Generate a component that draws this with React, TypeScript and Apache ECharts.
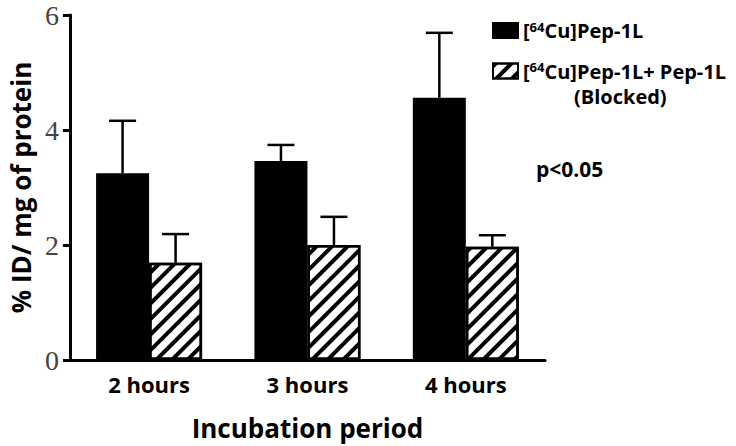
import React, { useEffect, useRef } from "react";
import * as echarts from "echarts";

const categories = ["2 hours", "3 hours", "4 hours"];
const pepValues = [3.25, 3.46, 4.56];
const pepErrors = [0.91, 0.28, 1.13];
const blockedValues = [1.69, 2.0, 1.97];
const blockedErrors = [0.5, 0.49, 0.2];
const yTicks = [0, 2, 4, 6];

const SANS = "'Open Sans', Lato, sans-serif";
const BAR_W = 53;

function errorSeries(name: string, values: number[], errors: number[], offset: number) {
  return {
    type: "custom",
    name: name + " err",
    z: 5,
    silent: true,
    data: values.map((v, i) => [i, v, errors[i]]),
    encode: { x: 0, y: 1 },
    renderItem: (params: any, api: any) => {
      const idx = api.value(0);
      const v = api.value(1);
      const e = api.value(2);
      const base = api.coord([idx, v]);
      const top = api.coord([idx, v + e]);
      const x = base[0] + offset;
      const style = { stroke: "#000", lineWidth: 2.5 };
      return {
        type: "group",
        children: [
          { type: "line", shape: { x1: x, y1: base[1], x2: x, y2: top[1] }, style },
          { type: "line", shape: { x1: x - 13.5, y1: top[1], x2: x + 13.5, y2: top[1] }, style },
        ],
      };
    },
  };
}

export default function App() {
  const ref = useRef<HTMLDivElement>(null);
  useEffect(() => {
    const chart = echarts.init(ref.current!, null, { renderer: "svg" });
    const rich = {
      b: { fontFamily: SANS, fontWeight: "bold", fontSize: 20, color: "#000" },
      sup: { fontFamily: SANS, fontWeight: "bold", fontSize: 13, color: "#000", verticalAlign: "top", padding: [0, 0, 8, 0] },
    };
    chart.setOption({
      animation: false,
      backgroundColor: "#fff",
      grid: { left: 62, right: 191, top: 15, bottom: 86 },
      legend: {
        left: 487,
        top: 15,
        orient: "vertical",
        itemWidth: 25,
        itemHeight: 15,
        itemGap: 20,
        icon: "rect",
        data: ["[64Cu]Pep-1L", "[64Cu]Pep-1L+ Pep-1L"],
        formatter: (name: string) => {
          const rest = name.replace("[64Cu]", "");
          return "{b|[}{sup|64}{b|Cu]" + rest + "}";
        },
        textStyle: { rich, padding: [0, 0, 0, 0] },
      },
      xAxis: {
        type: "category",
        data: categories,
        axisLine: { lineStyle: { color: "#000", width: 3 } },
        axisTick: { show: false },
        axisLabel: { fontFamily: SANS, fontWeight: "bold", fontSize: 22, color: "#000", margin: 13 },
        name: "Incubation period",
        nameLocation: "middle",
        nameGap: 55,
        nameTextStyle: { fontFamily: SANS, fontWeight: "bold", fontSize: 26, color: "#000" },
      },
      yAxis: {
        type: "value",
        min: yTicks[0],
        max: yTicks[yTicks.length - 1],
        interval: 2,
        splitLine: { show: false },
        axisLine: { show: true, lineStyle: { color: "#000", width: 3 } },
        axisTick: { show: true, length: 7, lineStyle: { color: "#000", width: 3 } },
        axisLabel: { fontFamily: "'Liberation Serif', serif", fontSize: 28, color: "#444", margin: 11 },
        name: "% ID/ mg of protein",
        nameLocation: "middle",
        nameGap: 29,
        nameTextStyle: { fontFamily: SANS, fontWeight: "bold", fontSize: 26, color: "#000" },
      },
      graphic: [
        {
          type: "text",
          left: 574,
          top: 86,
          style: { text: "(Blocked)", fontFamily: SANS, fontWeight: "bold", fontSize: 20, fill: "#000" },
        },
        {
          type: "text",
          left: 536,
          top: 158,
          style: { text: "p<0.05", fontFamily: SANS, fontWeight: "bold", fontSize: 21, fill: "#000" },
        },
      ],
      series: [
        {
          type: "bar",
          name: "[64Cu]Pep-1L",
          data: pepValues,
          barWidth: BAR_W,
          barGap: "0%",
          itemStyle: { color: "#000", borderColor: "#000", borderWidth: 2 },
        },
        {
          type: "bar",
          name: "[64Cu]Pep-1L+ Pep-1L",
          data: blockedValues,
          barWidth: BAR_W,
          barGap: "0%",
          itemStyle: {
            color: "#fff",
            borderColor: "#000",
            borderWidth: 2.5,
            decal: {
              symbol: "rect",
              symbolSize: 1,
              color: "#000",
              dashArrayX: [1, 0],
              dashArrayY: [3.5, 6.5],
              rotation: -Math.PI / 4,
            },
          },
        },
        errorSeries("[64Cu]Pep-1L", pepValues, pepErrors, -BAR_W / 2),
        errorSeries("[64Cu]Pep-1L+ Pep-1L", blockedValues, blockedErrors, BAR_W / 2),
      ],
    });
    return () => chart.dispose();
  }, []);
  return <div ref={ref} style={{ position: "fixed", left: 0, top: 0, width: 736, height: 446 }} />;
}
